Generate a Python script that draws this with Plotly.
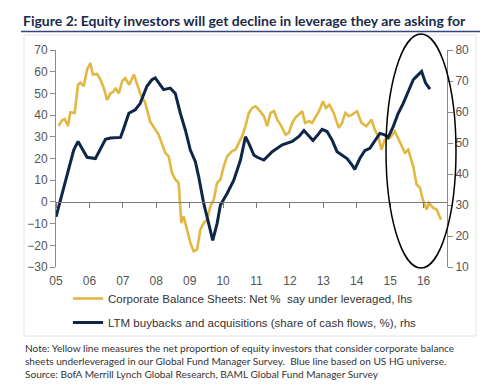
import plotly.graph_objects as go

# ---------------- data ----------------
years_tick = [2005, 2006, 2007, 2008, 2009, 2010, 2011, 2012, 2013, 2014, 2015, 2016]
tick_labels = ["05", "06", "07", "08", "09", "10", "11", "12", "13", "14", "15", "16"]

yellow_t = [2005.08, 2005.18, 2005.26, 2005.36, 2005.43, 2005.56, 2005.66, 2005.73, 2005.83, 2005.93,
            2006.03, 2006.10, 2006.23, 2006.33, 2006.43, 2006.53, 2006.63, 2006.73, 2006.78, 2006.88,
            2006.98, 2007.07, 2007.19, 2007.33, 2007.52, 2007.67, 2007.82, 2008.02, 2008.07, 2008.27,
            2008.37, 2008.47, 2008.57, 2008.67, 2008.75, 2008.82, 2008.92, 2009.02, 2009.12, 2009.22,
            2009.32, 2009.42, 2009.52, 2009.62, 2009.72, 2009.82, 2009.92, 2010.02, 2010.12, 2010.27,
            2010.37, 2010.47, 2010.57, 2010.67, 2010.77, 2010.87, 2010.97, 2011.07, 2011.22, 2011.32,
            2011.42, 2011.52, 2011.62, 2011.72, 2011.87, 2011.97, 2012.07, 2012.16, 2012.27, 2012.37,
            2012.45, 2012.57, 2012.66, 2012.76, 2012.87, 2012.99, 2013.08, 2013.18, 2013.31, 2013.46,
            2013.56, 2013.66, 2013.76, 2013.86, 2014.01, 2014.14, 2014.29, 2014.44, 2014.54, 2014.64,
            2014.74, 2014.84, 2014.99, 2015.14, 2015.24, 2015.34, 2015.44, 2015.54, 2015.69, 2015.79,
            2015.89, 2015.99, 2016.09, 2016.16, 2016.29, 2016.39, 2016.52]
yellow_v = [35, 37.6, 38.2, 35, 41.3, 41, 54, 55, 53.3, 61,
            64, 58.7, 59, 56.4, 52.5, 47, 50, 51, 52.5, 50,
            55.6, 57, 54, 58.7, 50, 45.6, 37, 32.6, 31, 22.6,
            21, 13.4, 10.3, 8.8, -9.7, -6.6, -12.8, -18.9, -22.7, -22,
            -12.8, -9.7, -8.2, -2, 1, 8.8, 10.3, 16.4, 21, 23.4,
            24, 27.2, 30.3, 34.9, 41, 43.3, 44, 42.5, 39.5, 34.9,
            41, 41.8, 37.9, 35.6, 31, 31.8, 36.4, 38.7, 40.2, 41.8,
            36.4, 37.2, 36.4, 38.7, 41.8, 46.4, 43.3, 44.8, 41, 34.1,
            36.4, 41, 39.5, 40.2, 41.8, 36.4, 34.9, 37.9, 33.3, 30.3,
            24.1, 28.7, 29.5, 32.6, 29.5, 26.4, 22.6, 24.1, 16.4, 8,
            6.5, 0.3, -3.5, -0.5, -2.8, -3.5, -8.2]

blue_t = [2005.00, 2005.13, 2005.28, 2005.43, 2005.53, 2005.66, 2005.80, 2005.93, 2006.18, 2006.33,
          2006.48, 2006.63, 2006.93, 2007.03, 2007.18, 2007.37, 2007.52, 2007.72, 2007.87, 2007.97,
          2008.22, 2008.42, 2008.57, 2008.72, 2008.87, 2009.02, 2009.17, 2009.27, 2009.42, 2009.57,
          2009.69, 2009.82, 2009.92, 2010.12, 2010.32, 2010.52, 2010.67, 2010.77, 2010.92, 2011.02,
          2011.22, 2011.47, 2011.77, 2012.07, 2012.27, 2012.42, 2012.57, 2012.69, 2012.87, 2012.96,
          2013.11, 2013.26, 2013.41, 2013.56, 2013.71, 2013.86, 2013.94, 2014.09, 2014.24, 2014.39,
          2014.54, 2014.69, 2014.84, 2014.94, 2015.09, 2015.24, 2015.39, 2015.54, 2015.69, 2015.79,
          2015.94, 2016.06, 2016.19]
blue_v = [26.2, 31.6, 38, 44, 47.7, 50.5, 47.7, 45.4, 45, 48.3,
          51.2, 51.6, 51.8, 54.8, 59.6, 60.7, 62.8, 68.3, 70.4, 71,
          67.2, 67.7, 66, 59.6, 54.2, 47.7, 44, 39.1, 30.5, 24,
          18.6, 24, 30, 33.7, 38, 44.5, 52, 49.9, 46.1, 45.4,
          44.5, 47.2, 49.4, 50.5, 52.1, 54, 52.1, 50.8, 53.1, 54.4,
          53.7, 51, 47.2, 46.1, 45, 42.9, 41.5, 45, 47.5, 48.3,
          50.5, 53.1, 52.6, 51.8, 55.3, 59.6, 62.8, 66.6, 70.4, 71.5,
          73.1, 69.3, 67.4]

left_range = [-30, 70]
right_range = [10, 80]
x_range = [2005, 2016.7]

title_text = "Figure 2: Equity investors will get decline in leverage they are asking for"
yellow_name = "Corporate Balance Sheets: Net %  say under leveraged, lhs"
blue_name = "LTM buybacks and acquisitions (share of cash flows, %), rhs"
note_text = ("Note: Yellow line measures the net proportion of equity investors that consider corporate balance<br>"
             "sheets underleveraged in our Global Fund Manager Survey.  Blue line based on US HG universe.<br>"
             "Source: BofA Merrill Lynch Global Research, BAML Global Fund Manager Survey")

YELLOW = "#E2B842"
NAVY = "#0E2748"
AXIS = "#8a8a8a"
TXT = "#555555"
ARIAL = "Liberation Sans, Arial, sans-serif"
HUMAN = "Lato, Liberation Sans, sans-serif"

fig = go.Figure()
fig.add_trace(go.Scatter(x=yellow_t, y=yellow_v, mode="lines", name=yellow_name,
                         line=dict(color=YELLOW, width=2.6), legendgroup="a"))
fig.add_trace(go.Scatter(x=blue_t, y=blue_v, mode="lines", name=blue_name, yaxis="y2",
                         line=dict(color=NAVY, width=3), legendgroup="b"))
# invisible helper trace so the zero-line axis is drawn
fig.add_trace(go.Scatter(x=[x_range[0]], y=[0], mode="markers", xaxis="x2", yaxis="y",
                         marker=dict(opacity=0), showlegend=False, hoverinfo="skip"))

zero_pos = (0 - left_range[0]) / (left_range[1] - left_range[0])

fig.update_layout(
    width=488, height=392,
    margin=dict(l=48, r=49, t=42, b=133, autoexpand=False),
    paper_bgcolor="white", plot_bgcolor="white",
    font=dict(family=ARIAL, size=12, color=TXT),
    title=dict(text="<b>" + title_text + "</b>", x=15 / 488, xanchor="left", xref="container",
               y=1 - 13 / 392, yanchor="middle", yref="container", automargin=False,
               font=dict(family=HUMAN, size=14, color="#1c2a4a")),
    xaxis=dict(range=x_range, tickvals=years_tick, ticktext=tick_labels, showline=False, ticks="",
               showgrid=False, zeroline=False, automargin=False,
               tickfont=dict(family=ARIAL, size=12, color=TXT), ticklabelstandoff=5),
    xaxis2=dict(range=x_range, overlaying="x", anchor="free", position=zero_pos, tickvals=years_tick,
                showticklabels=False, showline=True, linecolor="#7a7a7a", linewidth=1, ticks="outside",
                ticklen=5, tickcolor="#7a7a7a", showgrid=False, zeroline=False),
    yaxis=dict(range=left_range, dtick=10, showline=True, linecolor=AXIS, ticks="outside", ticklen=5,
               tickcolor=AXIS, showgrid=False, zeroline=False, automargin=False,
               tickfont=dict(family=ARIAL, size=12, color=TXT)),
    yaxis2=dict(range=right_range, dtick=10, overlaying="y", side="right", showline=True, linecolor=AXIS,
                ticks="outside", ticklen=5, tickcolor=AXIS, showgrid=False, zeroline=False, automargin=False,
                tickfont=dict(family=ARIAL, size=12, color=TXT)),
    legend=dict(x=(60 - 48) / 391, xanchor="left", y=(259 - 276) / 217, yanchor="top",
                bgcolor="rgba(0,0,0,0)", borderwidth=0, tracegroupgap=5, itemwidth=30,
                font=dict(family=ARIAL, size=11.5, color="#333333")),
    showlegend=True,
)

# faint frame around chart block
fig.add_shape(type="rect", xref="paper", yref="paper",
              x0=(16 - 48) / 391, x1=(468 - 48) / 391, y0=(259 - 328) / 217, y1=(259 - 27) / 217,
              line=dict(color="#e4e4e4", width=1), layer="below")
# title underline
fig.add_shape(type="line", xref="paper", yref="paper",
              x0=(13 - 48) / 391, x1=(476 - 48) / 391, y0=(259 - 23.5) / 217, y1=(259 - 23.5) / 217,
              line=dict(color="#33457a", width=1.5))
# ellipse highlight
fig.add_shape(type="circle", xref="paper", yref="paper",
              x0=(378 - 48) / 391, x1=(448 - 48) / 391, y0=(259 - 260) / 217, y1=(259 - 26) / 217,
              line=dict(color="black", width=1.5))

fig.add_annotation(text=note_text, xref="paper", yref="paper", x=(15 - 48) / 391, y=(259 - 332) / 217,
                   xanchor="left", yanchor="top", align="left", showarrow=False,
                   font=dict(family=HUMAN, size=10.1, color="#333333"))

fig.write_html("out.html")
